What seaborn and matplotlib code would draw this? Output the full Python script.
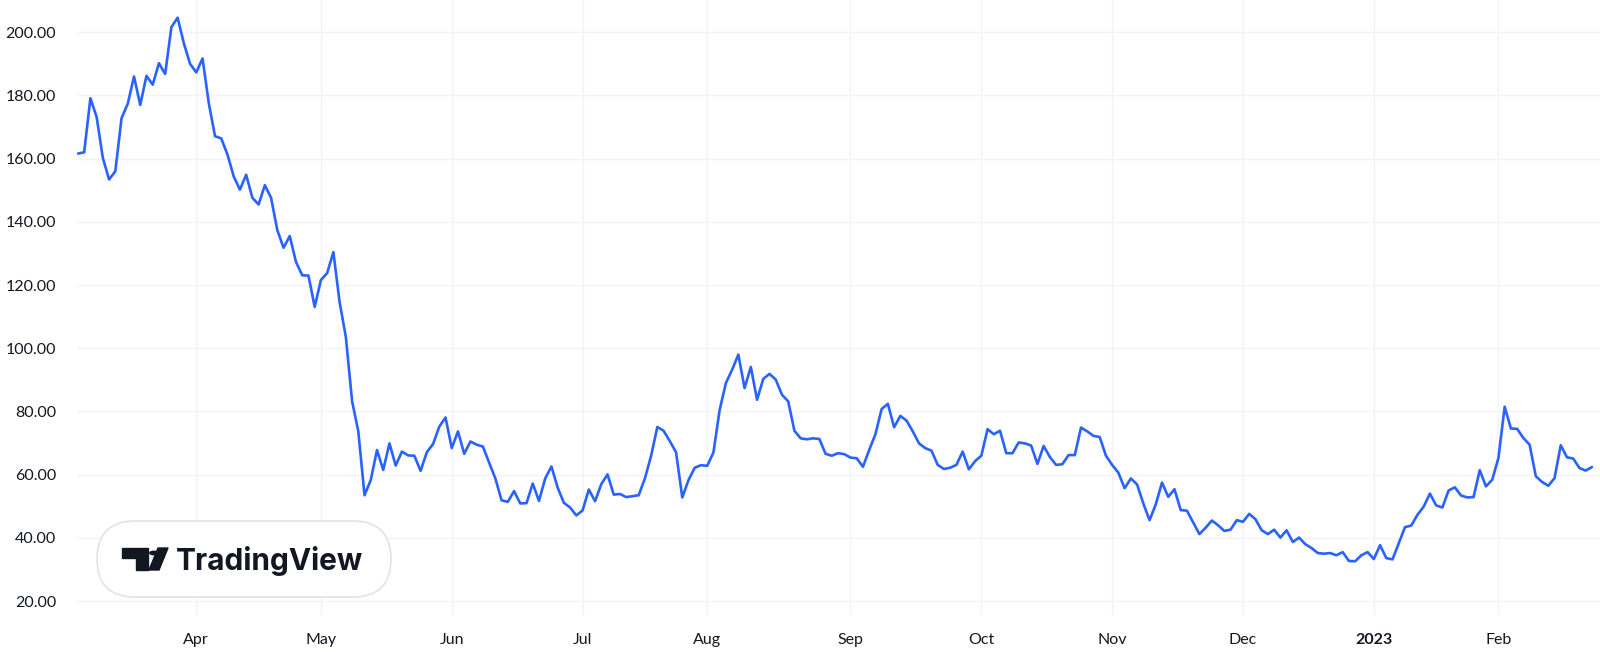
import pandas as pd
import seaborn as sns
import matplotlib.pyplot as plt
from matplotlib.patches import FancyBboxPatch, Polygon, Circle

# US market holidays inside the shown range
holidays = ["2022-04-15", "2022-05-30", "2022-06-20", "2022-07-04", "2022-09-05",
            "2022-11-24", "2022-12-26", "2023-01-02", "2023-01-16", "2023-02-20"]
start_date = "2022-03-07"
end_date = "2023-02-23"

# daily close, one value per trading day
close = [
    161.6, 162.0, 179.1, 173.2, 160.2, 153.4, 156.0, 172.8, 177.4, 186.0,
    177.0, 186.2, 183.4, 190.2, 186.8, 201.6, 204.6, 196.5, 190.0, 187.3,
    191.7, 177.6, 167.1, 166.4, 161.3, 154.4, 150.2, 154.9, 147.6, 145.5,
    151.6, 147.6, 137.4, 131.8, 135.5, 127.3, 123.1, 123.0, 113.1, 121.6,
    123.8, 130.4, 114.6, 103.6, 83.3, 73.7, 53.5, 58.3, 67.8, 61.5,
    69.9, 62.9, 67.3, 66.1, 66.0, 61.2, 67.1, 69.7, 75.2, 78.1,
    68.4, 73.7, 66.6, 70.5, 69.5, 68.9, 63.8, 58.8, 51.9, 51.4,
    54.8, 50.9, 51.0, 57.2, 51.7, 58.8, 62.6, 55.9, 51.1, 49.6,
    47.1, 48.7, 55.3, 51.6, 57.0, 60.1, 53.7, 53.9, 52.9, 53.2,
    53.5, 58.8, 66.0, 75.1, 73.9, 70.6, 67.1, 52.8, 58.3, 62.2,
    63.0, 62.8, 67.0, 80.5, 89.0, 93.2, 98.0, 87.4, 94.1, 83.7,
    90.3, 91.9, 90.1, 85.3, 83.2, 73.9, 71.5, 71.2, 71.5, 71.3,
    66.6, 66.0, 66.8, 66.5, 65.4, 65.2, 62.5, 67.8, 72.8, 80.8,
    82.4, 75.0, 78.6, 77.1, 73.7, 69.9, 68.4, 67.6, 63.1, 61.8,
    62.2, 63.1, 67.3, 61.7, 64.3, 66.0, 74.4, 72.8, 73.9, 66.8,
    66.8, 70.2, 69.9, 69.2, 63.4, 69.1, 65.6, 63.1, 63.3, 66.2,
    66.2, 74.9, 73.7, 72.3, 71.9, 66.0, 63.1, 60.6, 55.7, 58.8,
    56.9, 50.9, 45.6, 50.6, 57.5, 53.0, 55.4, 48.8, 48.6, 44.9,
    41.2, 43.2, 45.5, 44.0, 42.2, 42.6, 45.6, 45.1, 47.6, 45.9,
    42.4, 41.2, 42.6, 40.1, 42.4, 38.7, 40.1, 38.0, 36.8, 35.2,
    35.0, 35.2, 34.5, 35.5, 32.7, 32.6, 34.5, 35.5, 33.3, 37.7,
    33.6, 33.2, 38.3, 43.4, 43.9, 47.3, 49.9, 54.0, 50.3, 49.6,
    55.0, 56.0, 53.4, 52.8, 52.9, 61.4, 56.3, 58.4, 65.3, 81.5,
    74.6, 74.5, 71.6, 69.5, 59.5, 57.7, 56.5, 58.9, 69.3, 65.5,
    65.1, 62.1, 61.3, 62.4,
]

y_ticks = [20, 40, 60, 80, 100, 120, 140, 160, 180, 200]

dates = pd.bdate_range(start_date, end_date)
dates = dates[~dates.isin(pd.to_datetime(holidays))]
df = pd.DataFrame({"date": dates, "close": close})
df["bar"] = range(len(df))

# TradingView puts the x axis on bar index: label the first bar of every month
firsts = df.groupby(df["date"].dt.to_period("M"))["bar"].min().iloc[1:]
tick_pos = list(firsts.values)
tick_lab = [p.strftime("%b") if p.month != 1 else str(p.year) for p in firsts.index]

sns.set_theme(style="white")
plt.rcParams["font.family"] = ["Lato", "DejaVu Sans"]
text_col = "#131722"
grid_col = "#F0F3FA"

W, H = 1600, 652
fig = plt.figure(figsize=(W / 100, H / 100), dpi=100)
ax = fig.add_axes([77 / W, 37 / H, 1523 / W, 615 / H])

sns.lineplot(data=df, x="bar", y="close", ax=ax, color="#2962FF", linewidth=1.9)

ax.set_xlim(-0.15, 244.3)
ax.set_ylim(15.6, 210.2)
ax.set_yticks(y_ticks)
ax.set_yticklabels([f"{v:.2f}" for v in y_ticks])
ax.set_xticks(tick_pos)
ax.set_xticklabels(tick_lab)
for lab in ax.get_xticklabels():
    if lab.get_text().isdigit():
        lab.set_fontweight("bold")
ax.tick_params(axis="y", length=0, pad=15, labelsize=11.5, labelcolor=text_col)
ax.tick_params(axis="x", length=0, pad=13, labelsize=11.5, labelcolor=text_col)
ax.grid(True, color=grid_col, linewidth=1)
ax.set_axisbelow(True)
ax.set_xlabel("")
ax.set_ylabel("")
for s in ax.spines.values():
    s.set_visible(False)


def px(x, y):
    return (x / W, 1 - y / H)


# watermark badge
bx0, by0, bx1, by1 = 97, 521, 391, 597
r = (by1 - by0) / 2
badge = FancyBboxPatch(px(bx0 + r, by1 - r), (bx1 - bx0 - 2 * r) / W, 0,
                       boxstyle=f"round,pad={r / W},rounding_size={r / W}",
                       mutation_aspect=W / H,
                       transform=fig.transFigure, facecolor="white",
                       edgecolor="#E0E3EB", linewidth=1.2, zorder=5)
fig.patches.append(badge)

logo_col = "#131722"
t_bar = Polygon([px(122, 548), px(148, 548), px(148, 570), px(136, 570),
                 px(136, 558), px(122, 558)], closed=True,
                transform=fig.transFigure, color=logo_col, zorder=6)
dot = Circle(px(154, 553), 4.2 / W, transform=fig.transFigure, color=logo_col, zorder=6)
slash = Polygon([px(158, 548), px(168, 548), px(159, 570), px(149, 570)], closed=True,
                transform=fig.transFigure, color=logo_col, zorder=6)
for p in (t_bar, slash):
    fig.patches.append(p)
fig.patches.append(dot)
fig.text(176 / W, 1 - 570 / H, "TradingView", fontsize=21.5, fontweight="bold",
         family=["Inter", "DejaVu Sans"], color=logo_col, va="baseline", ha="left", zorder=6)

fig.savefig("out.png", dpi=100)
